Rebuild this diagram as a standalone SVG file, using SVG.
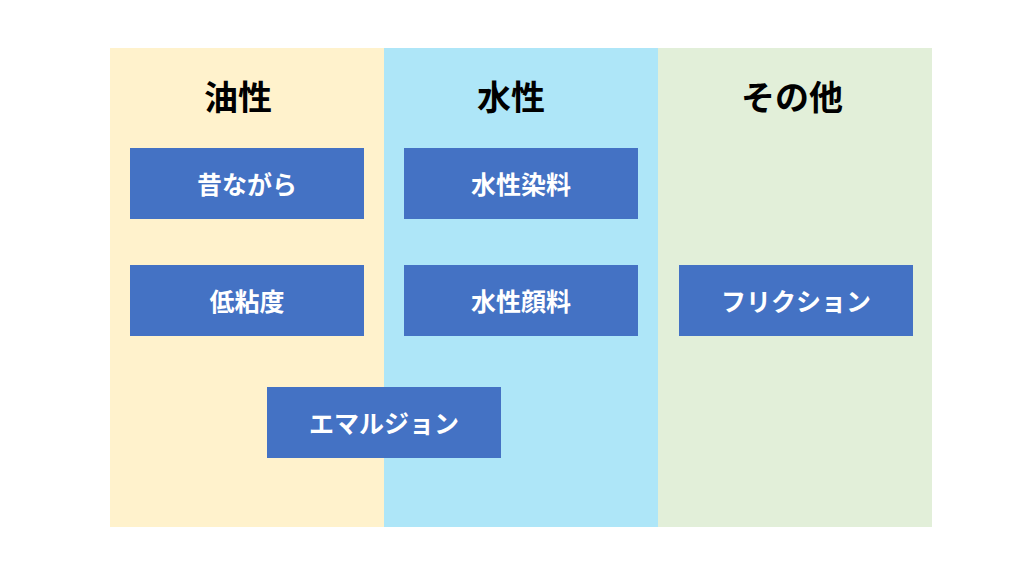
<svg xmlns="http://www.w3.org/2000/svg" width="1024" height="576" viewBox="0 0 1024 576">
<style>
.h{font-family:"Noto Sans CJK JP",sans-serif;font-size:34px;font-weight:bold;fill:#000;text-anchor:middle}
.b{fill:#4472c4}
.t{font-family:"Noto Sans CJK JP",sans-serif;font-size:25px;font-weight:bold;fill:#fff;text-anchor:middle;dominant-baseline:central}
</style>
<rect width="1024" height="576" fill="#fff"/>
<rect x="110" y="48" width="274" height="479" fill="#fff2cc"/>
<rect x="384" y="48" width="274" height="479" fill="#aee6f8"/>
<rect x="658" y="48" width="274" height="479" fill="#e2efd9"/>
<text class="h" x="238" y="110">油性</text>
<text class="h" x="511" y="110">水性</text>
<text class="h" x="792" y="110">その他</text>
<g id="n1"><rect class="b" x="130" y="148" width="234" height="71"/><text class="t" x="247" y="183">昔ながら</text></g>
<g id="n2"><rect class="b" x="130" y="265" width="234" height="71"/><text class="t" x="247" y="300">低粘度</text></g>
<g id="n3"><rect class="b" x="404" y="148" width="234" height="71"/><text class="t" x="521" y="183">水性染料</text></g>
<g id="n4"><rect class="b" x="404" y="265" width="234" height="71"/><text class="t" x="521" y="300">水性顔料</text></g>
<g id="n5"><rect class="b" x="679" y="265" width="234" height="71"/><text class="t" x="796" y="300">フリクション</text></g>
<g id="n6"><rect class="b" x="267" y="387" width="234" height="71"/><text class="t" x="384" y="422">エマルジョン</text></g>
<g id="connectors"/>
</svg>
